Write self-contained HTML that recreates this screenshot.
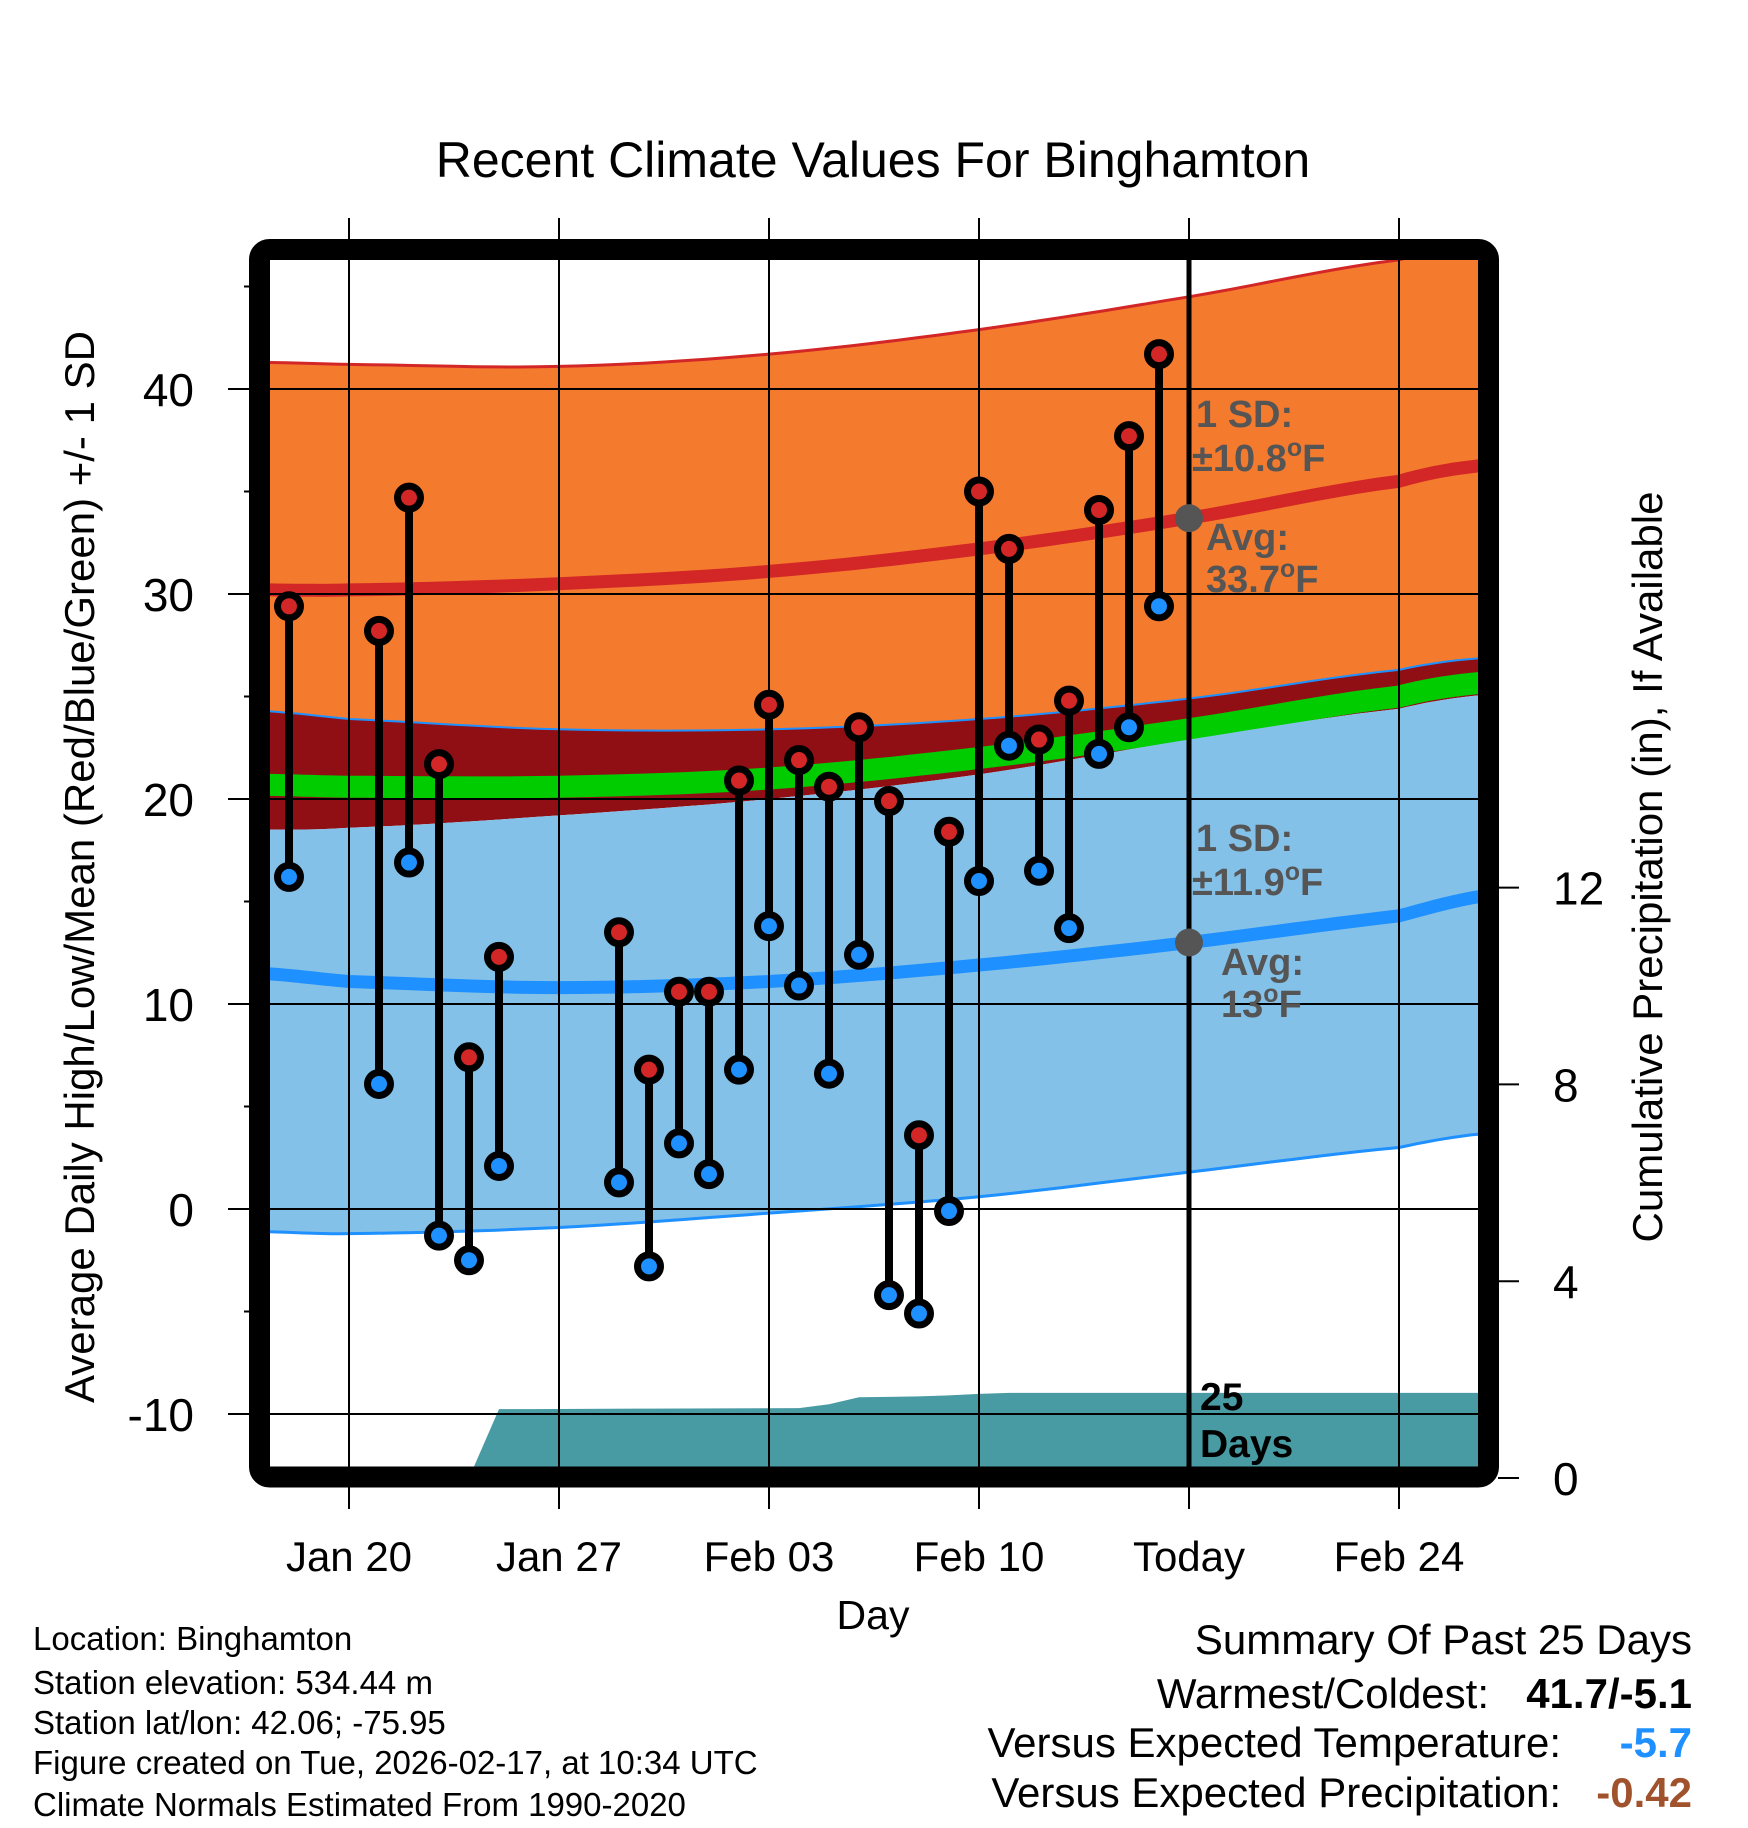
<!DOCTYPE html>
<html><head><meta charset="utf-8"><style>
html,body{margin:0;padding:0;background:#fff;}
svg{display:block;font-family:"Liberation Sans",sans-serif;}
</style></head><body>
<svg id="chart" width="1748" height="1828" viewBox="0 0 1748 1828" xmlns="http://www.w3.org/2000/svg">
<defs><clipPath id="plotclip"><rect x="270" y="260" width="1208" height="1207"/></clipPath></defs>
<g id="fills" clip-path="url(#plotclip)"></g>
<g id="grid"></g>
<g id="marks"></g>
<rect x="259.5" y="249.5" width="1229" height="1227.5" rx="10" fill="none" stroke="#000" stroke-width="21"/>
<g id="axes"></g>
<text x="873" y="177" font-size="50" text-anchor="middle">Recent Climate Values For Binghamton</text>
<text transform="translate(94,867) rotate(-90)" font-size="42" text-anchor="middle">Average Daily High/Low/Mean (Red/Blue/Green) +/- 1 SD</text>
<text transform="translate(1662,867) rotate(-90)" font-size="42" text-anchor="middle">Cumulative Precipitation (in), If Available</text>
<text x="873" y="1629" font-size="41" text-anchor="middle">Day</text>
<g fill="#555" font-weight="bold" font-size="38">
<text x="1196" y="427">1 SD:</text>
<text x="1192" y="471">±10.8<tspan font-size="25" dy="-15">o</tspan><tspan dy="15">F</tspan></text>
<text x="1206" y="550">Avg:</text>
<text x="1206" y="592">33.7<tspan font-size="25" dy="-15">o</tspan><tspan dy="15">F</tspan></text>
<text x="1196" y="851">1 SD:</text>
<text x="1192" y="895">±11.9<tspan font-size="25" dy="-15">o</tspan><tspan dy="15">F</tspan></text>
<text x="1221" y="975">Avg:</text>
<text x="1221" y="1017">13<tspan font-size="25" dy="-15">o</tspan><tspan dy="15">F</tspan></text>
</g>
<g font-weight="bold" font-size="39">
<text x="1200" y="1410">25</text><text x="1200" y="1457">Days</text>
</g>
<g font-size="33">
<text x="33" y="1650">Location: Binghamton</text>
<text x="33" y="1694">Station elevation: 534.44 m</text>
<text x="33" y="1734">Station lat/lon: 42.06; -75.95</text>
<text x="33" y="1774">Figure created on Tue, 2026-02-17, at 10:34 UTC</text>
<text x="33" y="1816">Climate Normals Estimated From 1990-2020</text>
</g>
<g font-size="42" text-anchor="end">
<text x="1692" y="1654">Summary Of Past 25 Days</text>
<text x="1489" y="1708">Warmest/Coldest:</text>
<text x="1692" y="1708" font-weight="bold">41.7/-5.1</text>
<text x="1561" y="1757">Versus Expected Temperature:</text>
<text x="1692" y="1757" font-weight="bold" fill="#1e90ff">-5.7</text>
<text x="1561" y="1807">Versus Expected Precipitation:</text>
<text x="1692" y="1807" font-weight="bold" fill="#a0522d">-0.42</text>
</g>
</svg>
<script>
// day offsets relative to Jan 20
const knotDays = [-3, 0, 7, 14, 21, 28, 35, 38];
const hiPlus  = [41.3, 41.2, 41.1, 41.7, 42.9, 44.5, 46.3, 47.0];
const hiMean  = [30.2, 30.2, 30.5, 31.1, 32.2, 33.7, 35.5, 36.3];
const hiMinus = [24.3, 23.9, 23.4, 23.4, 23.9, 24.9, 26.3, 26.9];
const avgMean = [20.7, 20.6, 20.6, 21.0, 22.0, 23.4, 25.0, 25.7];
const loPlus  = [18.5, 18.6, 19.2, 20.0, 21.2, 22.9, 24.4, 25.1];
const loMean  = [11.5, 11.1, 10.8, 11.1, 11.9, 13.0, 14.3, 15.3];
const loMinus = [-1.1, -1.2, -0.9, -0.2, 0.6, 1.8, 3.0, 3.7];
const obsDays = [-2, 1, 2, 3, 4, 5, 9, 10, 11, 12, 13, 14, 15, 16, 17, 18, 19, 20, 21, 22, 23, 24, 25, 26, 27];
const highs = [29.4, 28.2, 34.7, 21.7, 7.4, 12.3, 13.5, 6.8, 10.6, 10.6, 20.9, 24.6, 21.9, 20.6, 23.5, 19.9, 3.6, 18.4, 35.0, 32.2, 22.9, 24.8, 34.1, 37.7, 41.7];
const lows = [16.2, 6.1, 16.9, -1.3, -2.5, 2.1, 1.3, -2.8, 3.2, 1.7, 6.8, 13.8, 10.9, 6.6, 12.4, -4.2, -5.1, -0.1, 16.0, 22.6, 16.5, 13.7, 22.2, 23.5, 29.4];
const precipDays = [4, 5, 6, 10, 15, 16, 17, 18, 19, 20, 21, 22, 23, 38];
const precipCum = [0, 1.40, 1.40, 1.41, 1.42, 1.50, 1.64, 1.65, 1.66, 1.68, 1.71, 1.73, 1.73, 1.73];
const xTickDays = [0, 7, 14, 21, 28, 35];
const xTickLabels = ["Jan 20", "Jan 27", "Feb 03", "Feb 10", "Today", "Feb 24"];
const yTicks = [-10, 0, 10, 20, 30, 40];
const yMinor = [-5, 5, 15, 25, 35, 45];
const pTicks = [0, 4, 8, 12];

const NS = "http://www.w3.org/2000/svg";
const xs = d => 349 + 30 * d;
const ys = v => 1209 - 20.5 * v;
const yp = p => 1478 - 49.2 * p;
function mk(parent, tag, attrs) {
  const e = document.createElementNS(NS, tag);
  for (const k in attrs) e.setAttribute(k, attrs[k]);
  parent.appendChild(e);
  return e;
}
// smooth (Catmull-Rom) sampled points of a normals series
function smooth(arr) {
  const out = [];
  const n = knotDays.length;
  for (let i = 0; i < n - 1; i++) {
    const p0 = arr[Math.max(i - 1, 0)], p1 = arr[i], p2 = arr[i + 1], p3 = arr[Math.min(i + 2, n - 1)];
    const d0 = knotDays[i], d1 = knotDays[i + 1];
    for (let s = 0; s < 10; s++) {
      const t = s / 10, t2 = t * t, t3 = t2 * t;
      const v = 0.5 * (2 * p1 + (-p0 + p2) * t + (2 * p0 - 5 * p1 + 4 * p2 - p3) * t2 + (-p0 + 3 * p1 - 3 * p2 + p3) * t3);
      out.push([xs(d0 + (d1 - d0) * t), ys(v)]);
    }
  }
  out.push([xs(knotDays[n - 1]), ys(arr[n - 1])]);
  return out;
}
function pts(arr) { return smooth(arr).map(p => p[0].toFixed(1) + "," + p[1].toFixed(1)).join(" "); }
function band(lo, hi) {
  const a = smooth(hi);
  const b = smooth(lo).reverse();
  return a.concat(b).map(p => p[0].toFixed(1) + "," + p[1].toFixed(1)).join(" ");
}
const fills = document.getElementById("fills");
let e;
e = mk(fills, "polygon", {points: band(hiMinus, hiPlus), fill: "#f47a2e"});


e = mk(fills, "polygon", {points: band(loPlus, hiMinus), fill: "#900f15"});


e = mk(fills, "polyline", {points: pts(avgMean), fill: "none", stroke: "#00cc00", "stroke-width": 22});


e = mk(fills, "polygon", {points: band(loMinus, loPlus), fill: "#84c1e8"});


e = mk(fills, "polyline", {points: pts(hiPlus), fill: "none", stroke: "#d32626", "stroke-width": 3});


e = mk(fills, "polyline", {points: pts(hiMinus), fill: "none", stroke: "#1e90ff", "stroke-width": 2});


e = mk(fills, "polyline", {points: pts(loMinus), fill: "none", stroke: "#1e90ff", "stroke-width": 3});


e = mk(fills, "polyline", {points: pts(hiMean), fill: "none", stroke: "#d32626", "stroke-width": 13});


e = mk(fills, "polyline", {points: pts(loMean), fill: "none", stroke: "#1e90ff", "stroke-width": 13});


// precipitation area
let pp = [xs(precipDays[0]) + "," + yp(0)];
precipDays.forEach((d, i) => pp.push(xs(d) + "," + yp(precipCum[i])));
pp.push(xs(precipDays[precipDays.length - 1]) + "," + yp(0));
e = mk(fills, "polygon", {points: pp.join(" "), fill: "#489aa3"});



const grid = document.getElementById("grid");
yTicks.forEach(v => {
  const l = mk(grid, "line", {x1: 228, x2: 1478, y1: ys(v), y2: ys(v), stroke: "#000", "stroke-width": 2});
  
  
});
xTickDays.forEach((d, i) => {
  const l = mk(grid, "line", {x1: xs(d), x2: xs(d), y1: 218, y2: 1509, stroke: "#000", "stroke-width": 2});
  
  
  if (xTickLabels[i] === "Today") {
    const t = mk(grid, "line", {x1: xs(d), x2: xs(d), y1: 250, y2: 1477, stroke: "#000", "stroke-width": 5});
    
    
  }
});

const marks = document.getElementById("marks");
obsDays.forEach((d, i) => {
  const s = mk(marks, "line", {x1: xs(d), x2: xs(d), y1: ys(highs[i]), y2: ys(lows[i]), stroke: "#000", "stroke-width": 8});
  
  
  const h = mk(marks, "circle", {cx: xs(d), cy: ys(highs[i]), r: 11.5, fill: "#d32626", stroke: "#000", "stroke-width": 7});
  
  
  const lo = mk(marks, "circle", {cx: xs(d), cy: ys(lows[i]), r: 11.5, fill: "#1e90ff", stroke: "#000", "stroke-width": 7});
  
  
});
e = mk(marks, "circle", {cx: xs(28), cy: ys(33.7), r: 14, fill: "#555"});


e = mk(marks, "circle", {cx: xs(28), cy: ys(13.0), r: 14, fill: "#555"});



const axes = document.getElementById("axes");
yTicks.forEach(v => {
  const t = mk(axes, "text", {x: 194, y: ys(v) + 17, "font-size": 46, "text-anchor": "end"});
  t.textContent = v;
  
  
});
yMinor.forEach(v => {
  const l = mk(axes, "line", {x1: 244, x2: 252, y1: ys(v), y2: ys(v), stroke: "#000", "stroke-width": 2});
  
  
});
pTicks.forEach(p => {
  const l = mk(axes, "line", {x1: 1498, x2: 1519, y1: yp(p), y2: yp(p), stroke: "#000", "stroke-width": 2});
  
  
  const t = mk(axes, "text", {x: 1553, y: yp(p) + 17, "font-size": 46});
  t.textContent = p;
  
  
});
xTickDays.forEach((d, i) => {
  const t = mk(axes, "text", {x: xs(d), y: 1571, "font-size": 42, "text-anchor": "middle"});
  t.textContent = xTickLabels[i];
  
  
});
</script>
</body></html>
